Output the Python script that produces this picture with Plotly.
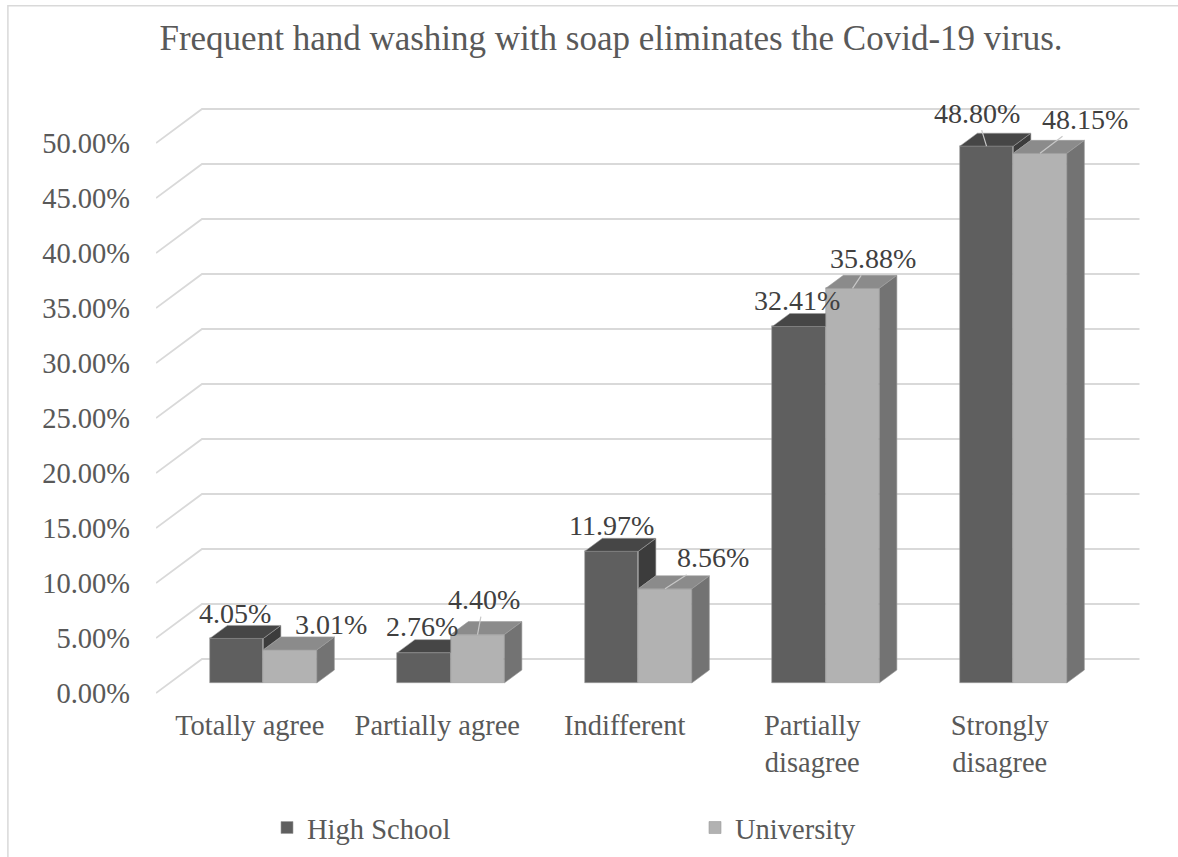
import plotly.graph_objects as go

# ---- data -------------------------------------------------------------
categories = ["Totally agree", "Partially agree", "Indifferent",
              "Partially<br>disagree", "Strongly<br>disagree"]
high_school = [4.05, 2.76, 11.97, 32.41, 48.80]
university = [3.01, 4.40, 8.56, 35.88, 48.15]
y_ticks = [0, 5, 10, 15, 20, 25, 30, 35, 40, 45, 50]
y_tick_labels = [f"{t:.2f}%" for t in y_ticks]

# ---- oblique 3-D projection ------------------------------------------
# a point (x, v) at depth t (0 = front plane, 1 = back wall) is drawn
# shifted right by t*DX category units and up by t*DY percent.
DX = 46 / 187.5
DY = 34 / 11.0
T_FRONT = 10 / 34
T_BACK = 23 / 34
BAR_W = 53.5 / 187.5
X_MIN, X_MAX = -0.5, 4.5


def proj(x, v, t):
    return x + t * DX, v + t * DY


C_HS = dict(front="#5f5f5f", top="#464646", side="#3c3c3c")
C_UN = dict(front="#b2b2b2", top="#8b8b8b", side="#737373")
EDGE = "#9c9c9c"
FONT = "Liberation Serif"


def polys_to_xy(polys):
    xs, ys = [], []
    for poly in polys:
        for (px, py) in poly:
            xs.append(px)
            ys.append(py)
        xs.append(poly[0][0])
        ys.append(poly[0][1])
        xs.append(None)
        ys.append(None)
    return xs, ys


def face_trace(polys, color):
    xs, ys = polys_to_xy(polys)
    return go.Scatter(x=xs, y=ys, mode="lines", fill="toself",
                      fillcolor=color, line=dict(color=EDGE, width=0.6),
                      hoverinfo="skip", showlegend=False)


fig = go.Figure()

# front faces of the columns
fig.add_trace(go.Bar(
    name="High School",
    x=[i - BAR_W / 2 + T_FRONT * DX for i in range(len(categories))],
    y=high_school, base=T_FRONT * DY, width=BAR_W,
    marker=dict(color=C_HS["front"], line=dict(color=EDGE, width=0.6)),
    hoverinfo="skip"))
fig.add_trace(go.Bar(
    name="University",
    x=[i + BAR_W / 2 + T_FRONT * DX for i in range(len(categories))],
    y=university, base=T_FRONT * DY, width=BAR_W,
    marker=dict(color=C_UN["front"], line=dict(color=EDGE, width=0.6)),
    hoverinfo="skip"))

# top and side faces
hs_tops, hs_sides, un_tops, un_sides = [], [], [], []
for i, (vh, vu) in enumerate(zip(high_school, university)):
    hl, hr = i - BAR_W, i
    ul, ur = i, i + BAR_W
    # High School top face (its right end is hidden behind a taller neighbour)
    a = proj(hl, vh, T_FRONT)
    b = proj(hr, vh, T_FRONT)
    c = proj(hr, vh, T_BACK)
    d = proj(hl, vh, T_BACK)
    if vu > vh:
        hs_tops.append([a, b, (b[0], d[1]), d])
    else:
        hs_tops.append([a, b, c, d])
        # part of the High School side face above the University column
        hs_sides.append([proj(hr, vu, T_FRONT), proj(hr, vh, T_FRONT),
                         proj(hr, vh, T_BACK), proj(hr, vu, T_BACK)])
    un_tops.append([proj(ul, vu, T_FRONT), proj(ur, vu, T_FRONT),
                    proj(ur, vu, T_BACK), proj(ul, vu, T_BACK)])
    un_sides.append([proj(ur, 0, T_FRONT), proj(ur, vu, T_FRONT),
                     proj(ur, vu, T_BACK), proj(ur, 0, T_BACK)])

fig.add_trace(face_trace(hs_sides, C_HS["side"]))
fig.add_trace(face_trace(hs_tops, C_HS["top"]))
fig.add_trace(face_trace(un_sides, C_UN["side"]))
fig.add_trace(face_trace(un_tops, C_UN["top"]))

# perspective gridlines (side wall + back wall)
shapes = []
for v in y_ticks:
    p0 = proj(X_MIN, v, 0)
    p1 = proj(X_MIN, v, 1)
    p2 = proj(X_MAX, v, 1)
    shapes.append(dict(
        type="path", xref="x", yref="y", layer="below",
        path=f"M{p0[0]},{p0[1]} L{p1[0]},{p1[1]} L{p2[0]},{p2[1]}",
        line=dict(color="#d9d9d9", width=1.8)))

# chart frame (left and top edges fall inside the page)
shapes.append(dict(type="rect", xref="paper", yref="paper",
                   x0=-0.149, x1=1.2, y0=-0.4, y1=1.137,
                   line=dict(color="#d9d9d9", width=1.5), layer="below"))

# data labels
hs_offsets = [(-1.5, -25), (-2, -26), (0, -26), (-2.5, -26), (-10, -33)]
un_offsets = [(41, -25), (6.5, -35), (48, -31), (20, -30), (45, -34)]
hs_leader = [False, False, False, False, True]
un_leader = [False, True, True, True, True]

annotations = []
for i in range(len(categories)):
    for vals, sign, offs, lead in ((high_school, -1, hs_offsets, hs_leader),
                                   (university, 1, un_offsets, un_leader)):
        v = vals[i]
        ax_, ay_ = proj(i + sign * BAR_W / 2, v, T_FRONT)
        annotations.append(dict(
            x=ax_, y=ay_, xref="x", yref="y", text=f"{v:.2f}%",
            showarrow=True, arrowhead=0, arrowwidth=1.2,
            arrowcolor="#c8c8c8" if lead[i] else "rgba(0,0,0,0)",
            ax=offs[i][0], ay=offs[i][1],
            font=dict(family=FONT, size=28, color="#404040")))

fig.update_layout(
    width=1178, height=857,
    margin=dict(l=156, r=28, t=90, b=152),
    paper_bgcolor="white", plot_bgcolor="white",
    barmode="overlay", bargap=0,
    font=dict(family=FONT, color="#595959"),
    shapes=shapes, annotations=annotations,
    title=dict(text="Frequent hand washing with soap eliminates the Covid-19 virus.",
               x=611 / 1178, xref="container", xanchor="center",
               y=1 - 38 / 857, yref="container", yanchor="middle",
               font=dict(family=FONT, size=35, color="#595959")),
    xaxis=dict(range=[-0.5, -0.5 + 994 / 187.5], showgrid=False,
               zeroline=False, showline=False,
               tickmode="array", tickvals=list(range(len(categories))),
               ticktext=categories, ticks="",
               tickfont=dict(family=FONT, size=28.5, color="#595959")),
    yaxis=dict(range=[-12 / 11, 603 / 11], showgrid=False, zeroline=False,
               showline=False, tickmode="array", tickvals=y_ticks,
               ticktext=y_tick_labels, ticks="", ticklabelstandoff=25,
               tickfont=dict(family=FONT, size=28.5, color="#595959")),
    legend=dict(orientation="h", xref="container", yref="container",
                x=267 / 1178, xanchor="left", y=1 - 828 / 857,
                yanchor="middle", entrywidth=383, traceorder="normal",
                font=dict(family=FONT, size=28.5, color="#595959")),
)

fig.write_html("out.html")
